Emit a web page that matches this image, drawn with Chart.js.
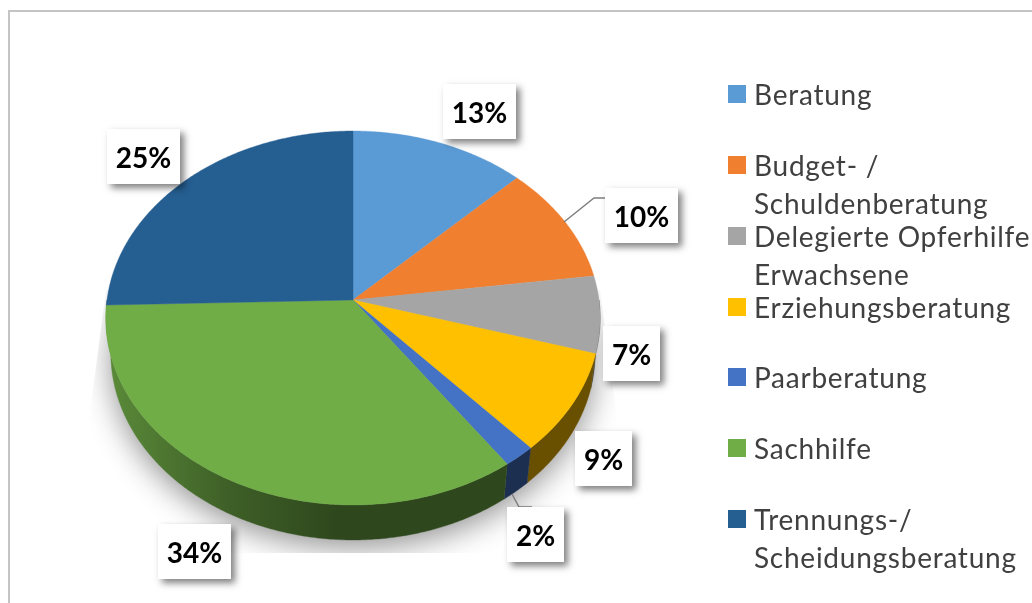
<!DOCTYPE html>
<html><head><meta charset="utf-8">
<style>html,body{margin:0;padding:0;background:#fff;overflow:hidden}canvas{display:block}</style>
<script src="https://cdn.jsdelivr.net/npm/chart.js@4/dist/chart.umd.js"></script>
</head><body>
<canvas id="c" width="1032" height="603"></canvas>
<script>
const categories = ['Beratung','Budget- / Schuldenberatung','Delegierte Opferhilfe Erwachsene','Erziehungsberatung','Paarberatung','Sachhilfe','Trennungs-/ Scheidungsberatung'];
const percentValues = [12.6,10.3,6.65,8.75,1.9,34.37,25.43];
const sliceColors = ['#5b9bd5','#f07f30','#a5a5a5','#ffc000','#4472c4','#70ad47','#255e91'];
const legendLines = [['Beratung'],['Budget- /','Schuldenberatung'],['Delegierte Opferhilfe','Erwachsene'],['Erziehungsberatung'],['Paarberatung'],['Sachhilfe'],['Trennungs-/','Scheidungsberatung']];
// presentation geometry (not data)
const legendSwatchTops = [85,156,227,298,368,439,510];
const labelBoxes = [[443,84,73],[605,188,73],[603,326,57],[575,431,57],[507,507,57],[158,524,73],[107,129,73]];
const leaders = [[[564,222],[594,198],[606,198]],[[512,494],[519,507],[532,507]]];

// Perspective projection of the flat pie (tilted disc, nearer edge larger)
const P = 0.0962, K = 0.753;
function project(el, a){
  const R = el.outerRadius, dx = R*Math.cos(a), dy = R*Math.sin(a);
  const d = 1 - P*dy/R;
  return [el.x + dx/d, el.y + K*dy/d];
}
function lowerRim(el, p){ return [el.x + (p[0]-el.x)*0.98, p[1]+35]; }
function sample(a0,a1,step){
  const n = Math.max(2, Math.ceil(Math.abs(a1-a0)/(step||0.01))), out=[];
  for(let i=0;i<=n;i++) out.push(a0+(a1-a0)*i/n);
  return out;
}
Chart.ArcElement.prototype.draw = function(ctx){
  const col = this.options.backgroundColor;
  ctx.save();
  ctx.beginPath();
  ctx.moveTo(this.x,this.y);
  sample(this.startAngle,this.endAngle).forEach(a=>{const p=project(this,a);ctx.lineTo(p[0],p[1]);});
  ctx.closePath();
  ctx.fillStyle=col; ctx.fill();
  ctx.strokeStyle=col; ctx.lineWidth=0.4; ctx.stroke();
  ctx.restore();
};
function shade(hex,f){
  const n=parseInt(hex.slice(1),16);
  return `rgb(${Math.round((n>>16&255)*f)},${Math.round((n>>8&255)*f)},${Math.round((n&255)*f)})`;
}
const scene = {
  id:'scene',
  beforeDatasetsDraw(chart){
    const ctx=chart.ctx, arcs=chart.getDatasetMeta(0).data, el=arcs[0];
    // frame
    ctx.save();
    ctx.strokeStyle='#c4c4c4'; ctx.lineWidth=2;
    ctx.beginPath(); ctx.moveTo(9,603); ctx.lineTo(9,11); ctx.lineTo(1032,11); ctx.stroke();
    ctx.restore();
    // soft shadow under the disc, cut by a hard polygon
    ctx.save();
    ctx.beginPath();
    [[106,290],[89,420],[89,553],[640,553],[616,410],[600,290]].forEach((p,i)=>i?ctx.lineTo(p[0],p[1]):ctx.moveTo(p[0],p[1]));
    ctx.closePath(); ctx.clip();
    ctx.shadowColor='rgba(0,0,0,0.42)'; ctx.shadowBlur=30; ctx.shadowOffsetY=8;
    ctx.fillStyle='#ccc';
    ctx.beginPath();
    sample(0,Math.PI*2).forEach((a,i)=>{const p=lowerRim(el,project(el,a));i?ctx.lineTo(p[0],p[1]):ctx.moveTo(p[0],p[1]);});
    ctx.closePath(); ctx.fill();
    ctx.restore();
    // side wall: lower rim offset from the top rim, front half only
    arcs.forEach(arc=>{
      const a0=Math.max(arc.startAngle,0), a1=Math.min(arc.endAngle,Math.PI);
      if(a1<=a0) return;
      const col=arc.options.backgroundColor, as=sample(a0,a1);
      const g=ctx.createLinearGradient(106,0,600,0), span=494;
      [[110,.8],[230,.55],[340,.41],[600,.41]].forEach(s=>g.addColorStop((s[0]-106)/span,shade(col,s[1])));
      ctx.save();
      ctx.beginPath();
      as.forEach((a,i)=>{const p=project(arc,a);i?ctx.lineTo(p[0],p[1]):ctx.moveTo(p[0],p[1]);});
      as.slice().reverse().forEach(a=>{const p=lowerRim(arc,project(arc,a));ctx.lineTo(p[0],p[1]);});
      ctx.closePath();
      ctx.fillStyle=g; ctx.fill();
      ctx.strokeStyle=g; ctx.lineWidth=0.4; ctx.stroke();
      ctx.restore();
    });
  },
  afterDatasetsDraw(chart){
    const ctx=chart.ctx, vals=chart.data.datasets[0].data;
    // leader lines
    ctx.save();
    ctx.strokeStyle='#7f7f7f'; ctx.lineWidth=1.5;
    leaders.forEach(l=>{ctx.beginPath();l.forEach((p,i)=>i?ctx.lineTo(p[0],p[1]):ctx.moveTo(p[0],p[1]));ctx.stroke();});
    ctx.restore();
    // data labels
    vals.forEach((v,i)=>{
      const b=labelBoxes[i];
      ctx.save();
      ctx.shadowColor='rgba(0,0,0,0.5)'; ctx.shadowBlur=7; ctx.shadowOffsetX=4; ctx.shadowOffsetY=4;
      ctx.fillStyle='#fff'; ctx.fillRect(b[0],b[1],b[2],55);
      ctx.restore();
      ctx.save();
      ctx.fillStyle='#000'; ctx.font='bold 28px Lato'; ctx.textAlign='center'; ctx.textBaseline='alphabetic';
      ctx.fillText(Math.round(v)+'%',b[0]+b[2]/2,b[1]+39);
      ctx.restore();
    });
    // legend
    legendLines.forEach((lines,i)=>{
      const t=legendSwatchTops[i];
      ctx.save();
      ctx.fillStyle=sliceColors[i]; ctx.fillRect(728,t,18,18);
      ctx.fillStyle='#404040'; ctx.font='28px Lato'; ctx.letterSpacing='0.75px'; ctx.textAlign='left'; ctx.textBaseline='alphabetic';
      lines.forEach((s,j)=>ctx.fillText(s,754,t+19.5+j*38.5));
      ctx.restore();
    });
  }
};
new Chart(document.getElementById('c'),{
  type:'pie',
  data:{labels:categories,datasets:[{data:percentValues,backgroundColor:sliceColors,borderWidth:0}]},
  options:{
    responsive:false,animation:false,
    layout:{padding:{left:107,right:433,top:54,bottom:57}},
    plugins:{legend:{display:false},tooltip:{enabled:false}}
  },
  plugins:[scene]
});
</script>
</body></html>
